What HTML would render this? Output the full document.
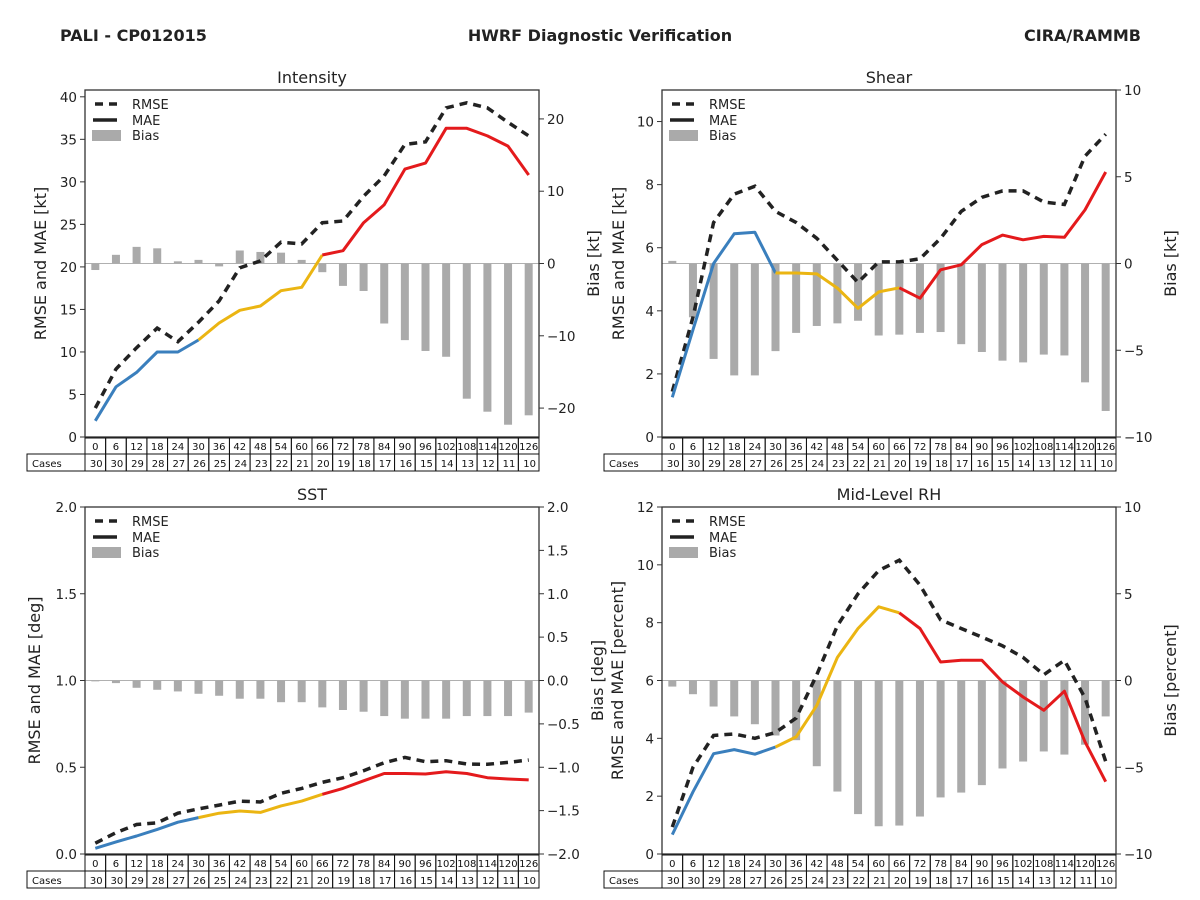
<!DOCTYPE html>
<html><head><meta charset="utf-8"><style>
html,body{margin:0;padding:0;background:#fff;}
svg{display:block;font-family:"DejaVu Sans","Liberation Sans",sans-serif;}
</style></head><body>
<svg id="fig" width="1200" height="900" viewBox="0 0 1200 900" xmlns="http://www.w3.org/2000/svg">
<rect width="1200" height="900" fill="#fff"/>
<text x="60" y="41" font-size="16" font-weight="bold" fill="#222">PALI - CP012015</text>
<text x="600" y="41" font-size="16" font-weight="bold" fill="#222" text-anchor="middle">HWRF Diagnostic Verification</text>
<text x="1141" y="41" font-size="16" font-weight="bold" fill="#222" text-anchor="end">CIRA/RAMMB</text>
</svg>
<script>
const leads = [0,6,12,18,24,30,36,42,48,54,60,66,72,78,84,90,96,102,108,114,120,126];
const cases = [30,30,29,28,27,26,25,24,23,22,21,20,19,18,17,16,15,14,13,12,11,10];

const intRmse = [3.4,8,10.5,12.8,11.2,13.5,16,19.9,20.7,22.9,22.7,25.2,25.4,28.3,30.7,34.4,34.7,38.7,39.3,38.7,37,35.4];
const intMae = [1.9,5.9,7.6,10.0,10.0,11.4,13.4,14.9,15.4,17.2,17.6,21.4,21.9,25.2,27.3,31.5,32.2,36.3,36.3,35.4,34.2,30.8];
const intBias = [-0.9,1.2,2.3,2.1,0.3,0.5,-0.4,1.8,1.6,1.5,0.5,-1.2,-3.1,-3.8,-8.3,-10.6,-12.1,-12.9,-18.7,-20.5,-22.3,-21.0];

const shrRmse = [1.44,3.8,6.8,7.7,7.95,7.15,6.8,6.3,5.6,4.9,5.55,5.55,5.65,6.3,7.15,7.6,7.8,7.8,7.45,7.37,8.9,9.6];
const shrMae = [1.26,3.4,5.5,6.44,6.49,5.2,5.2,5.17,4.72,4.08,4.6,4.73,4.4,5.3,5.46,6.1,6.4,6.25,6.36,6.33,7.2,8.4];
const shrBias = [0.15,-3.1,-5.5,-6.45,-6.45,-5.05,-4.0,-3.6,-3.45,-3.3,-4.15,-4.1,-4.0,-3.95,-4.65,-5.1,-5.6,-5.7,-5.25,-5.3,-6.85,-8.5];

const sstRmse = [0.062,0.123,0.17,0.18,0.235,0.26,0.282,0.305,0.30,0.35,0.378,0.413,0.44,0.48,0.526,0.557,0.532,0.538,0.519,0.517,0.528,0.542];
const sstMae = [0.033,0.07,0.104,0.142,0.183,0.21,0.235,0.248,0.24,0.277,0.305,0.344,0.378,0.422,0.464,0.464,0.461,0.474,0.464,0.44,0.432,0.427];
const sstBias = [-0.01,-0.03,-0.084,-0.107,-0.126,-0.153,-0.176,-0.21,-0.21,-0.25,-0.25,-0.31,-0.34,-0.36,-0.41,-0.44,-0.44,-0.44,-0.41,-0.41,-0.41,-0.37];

const rhRmse = [0.93,3.0,4.1,4.15,4.0,4.2,4.7,6.2,7.9,9.0,9.8,10.16,9.3,8.1,7.8,7.5,7.2,6.8,6.2,6.7,5.4,3.2];
const rhMae = [0.67,2.15,3.47,3.61,3.45,3.7,4.05,5.14,6.8,7.8,8.55,8.34,7.8,6.64,6.7,6.7,5.95,5.43,4.97,5.63,3.88,2.5];
const rhBias = [-0.35,-0.79,-1.5,-2.07,-2.52,-3.17,-3.44,-4.94,-6.4,-7.7,-8.4,-8.36,-7.84,-6.74,-6.46,-6.03,-5.07,-4.67,-4.09,-4.27,-3.7,-2.07];

const intLeftTicks = [0,5,10,15,20,25,30,35,40];
const intRightTicks = [-20,-10,0,10,20];
const shrLeftTicks = [0,2,4,6,8,10];
const shrRightTicks = [-10,-5,0,5,10];
const sstLeftTicks = ["0.0","0.5","1.0","1.5","2.0"];
const sstRightTicks = ["-2.0","-1.5","-1.0","-0.5","0.0","0.5","1.0","1.5","2.0"];
const rhLeftTicks = [0,2,4,6,8,10,12];
const rhRightTicks = [-10,-5,0,5,10];

const NS = "http://www.w3.org/2000/svg";
const svg = document.getElementById('fig');
function mk(tag, attrs, parent, text){
  const e = document.createElementNS(NS, tag);
  for (const k in attrs) e.setAttribute(k, attrs[k]);
  if (text !== undefined) e.textContent = text;
  (parent || svg).appendChild(e);
  return e;
}
function fmt(v){ return String(v).replace('-', '\u2212'); }

function panel(p){
  const g = mk('g', {});
  
  
  const x0 = p.x, y0 = p.y, W = 454, H = 347;
  const n = leads.length, cw = W / n;
  const xs = i => x0 + (i + 0.5) * cw;
  const yl = v => y0 + H - (v - p.lmin) / (p.lmax - p.lmin) * H;
  const yr = v => y0 + H - (v - p.rmin) / (p.rmax - p.rmin) * H;

  const t = mk('text', {x: x0 + W/2, y: y0 - 7, 'font-size': 16, 'text-anchor': 'middle', fill: '#222'}, g, p.title);
  
  

  // zero bias line
  const zl = mk('line', {x1: x0, x2: x0 + W, y1: yr(0), y2: yr(0), stroke: '#b0b0b0', 'stroke-width': 1}, g);
  
  

  // bias bars
  p.bias.forEach((v, i) => {
    const y1 = yr(0), y2 = yr(v);
    const b = mk('rect', {x: xs(i) - 4, y: Math.min(y1, y2), width: 8, height: Math.max(Math.abs(y2 - y1), 0.5), fill: '#aaaaaa'}, g);
    
    
  });

  // RMSE dashed
  const rp = p.rmse.map((v, i) => xs(i).toFixed(1) + ',' + yl(v).toFixed(1)).join(' ');
  const rl = mk('polyline', {points: rp, fill: 'none', stroke: '#222', 'stroke-width': 3.5, 'stroke-dasharray': '8,6'}, g);
  
  

  // MAE colored segments
  const segs = [[0,5,'#3a7fbd'],[5,11,'#ebb512'],[11,n-1,'#e41a1c']];
  segs.forEach(s => {
    const pts = [];
    for (let i = s[0]; i <= s[1]; i++) pts.push(xs(i).toFixed(1) + ',' + yl(p.mae[i]).toFixed(1));
    const m = mk('polyline', {points: pts.join(' '), fill: 'none', stroke: s[2], 'stroke-width': 3, 'stroke-linejoin': 'round'}, g);
    
    
  });

  // frame
  const fr = mk('rect', {x: x0, y: y0, width: W, height: H, fill: 'none', stroke: '#333', 'stroke-width': 1.3}, g);
  
  

  // left ticks
  p.lt.forEach(v => {
    const y = yl(parseFloat(v));
    mk('line', {x1: x0 - 5, x2: x0, y1: y, y2: y, stroke: '#333'}, g);
    const tl = mk('text', {x: x0 - 8, y: y + 5, 'font-size': 13.5, 'text-anchor': 'end', fill: '#222'}, g, fmt(v));
    
    
  });
  p.rt.forEach(v => {
    const y = yr(parseFloat(v));
    mk('line', {x1: x0 + W, x2: x0 + W + 5, y1: y, y2: y, stroke: '#333'}, g);
    const tr = mk('text', {x: x0 + W + 8, y: y + 5, 'font-size': 13.5, fill: '#222'}, g, fmt(v));
    
    
  });

  // axis labels
  const ly = y0 + H/2;
  const la = mk('text', {x: 0, y: 0, 'font-size': 16, 'text-anchor': 'middle', fill: '#222', transform: `translate(${p.llx},${ly}) rotate(-90)`}, g, p.ylab);
  
  
  const ra = mk('text', {x: 0, y: 0, 'font-size': 16, 'text-anchor': 'middle', fill: '#222', transform: `translate(${p.rlx},${ly}) rotate(-90)`}, g, p.rlab);
  
  

  // legend
  const lg = mk('g', {}, g);
  
  
  const lx = x0 + 10;
  mk('line', {x1: lx, x2: lx + 22, y1: y0 + 14, y2: y0 + 14, stroke: '#222', 'stroke-width': 3.5, 'stroke-dasharray': '8,6'}, lg);
  mk('text', {x: lx + 37, y: y0 + 19, 'font-size': 13, fill: '#222'}, lg, 'RMSE');
  mk('line', {x1: lx - 2, x2: lx + 22, y1: y0 + 30, y2: y0 + 30, stroke: '#222', 'stroke-width': 3.5}, lg);
  mk('text', {x: lx + 37, y: y0 + 35, 'font-size': 13, fill: '#222'}, lg, 'MAE');
  mk('rect', {x: lx - 3, y: y0 + 40, width: 29, height: 11, fill: '#aaaaaa'}, lg);
  mk('text', {x: lx + 37, y: y0 + 50, 'font-size': 13, fill: '#222'}, lg, 'Bias');

  // table
  const tb = mk('g', {}, g);
  
  
  const r1 = y0 + H + 1, r2 = r1 + 16, r3 = r2 + 17;
  leads.forEach((L, i) => {
    const cx = x0 + i * cw;
    mk('rect', {x: cx, y: r1, width: cw, height: 16, fill: 'none', stroke: '#111', 'stroke-width': 1}, tb);
    mk('text', {x: cx + cw/2, y: r1 + 12, 'font-size': 10, 'text-anchor': 'middle', fill: '#111'}, tb, L);
    mk('rect', {x: cx, y: r2, width: cw, height: 17, fill: 'none', stroke: '#111', 'stroke-width': 1}, tb);
    mk('text', {x: cx + cw - 3, y: r2 + 13, 'font-size': 10, 'text-anchor': 'end', fill: '#111'}, tb, cases[i]);
  });
  mk('rect', {x: x0 - 58, y: r2, width: 58, height: 17, fill: 'none', stroke: '#111', 'stroke-width': 1}, tb);
  mk('text', {x: x0 - 53, y: r2 + 13, 'font-size': 10, fill: '#111'}, tb, 'Cases');
}

panel({name:'intensity', title:'Intensity', x:85, y:90, lmin:0, lmax:40.8, rmin:-24, rmax:24,
  rmse:intRmse, mae:intMae, bias:intBias, lt:intLeftTicks, rt:intRightTicks,
  ylab:'RMSE and MAE [kt]', rlab:'Bias [kt]', llx:46, rlx:599});
panel({name:'shear', title:'Shear', x:662, y:90, lmin:0, lmax:11, rmin:-10, rmax:10,
  rmse:shrRmse, mae:shrMae, bias:shrBias, lt:shrLeftTicks, rt:shrRightTicks,
  ylab:'RMSE and MAE [kt]', rlab:'Bias [kt]', llx:624, rlx:1176});
panel({name:'sst', title:'SST', x:85, y:507, lmin:0, lmax:2, rmin:-2, rmax:2,
  rmse:sstRmse, mae:sstMae, bias:sstBias, lt:sstLeftTicks, rt:sstRightTicks,
  ylab:'RMSE and MAE [deg]', rlab:'Bias [deg]', llx:40, rlx:603});
panel({name:'mid-level-rh', title:'Mid-Level RH', x:662, y:507, lmin:0, lmax:12, rmin:-10, rmax:10,
  rmse:rhRmse, mae:rhMae, bias:rhBias, lt:rhLeftTicks, rt:rhRightTicks,
  ylab:'RMSE and MAE [percent]', rlab:'Bias [percent]', llx:623, rlx:1176});
</script>
</body></html>
